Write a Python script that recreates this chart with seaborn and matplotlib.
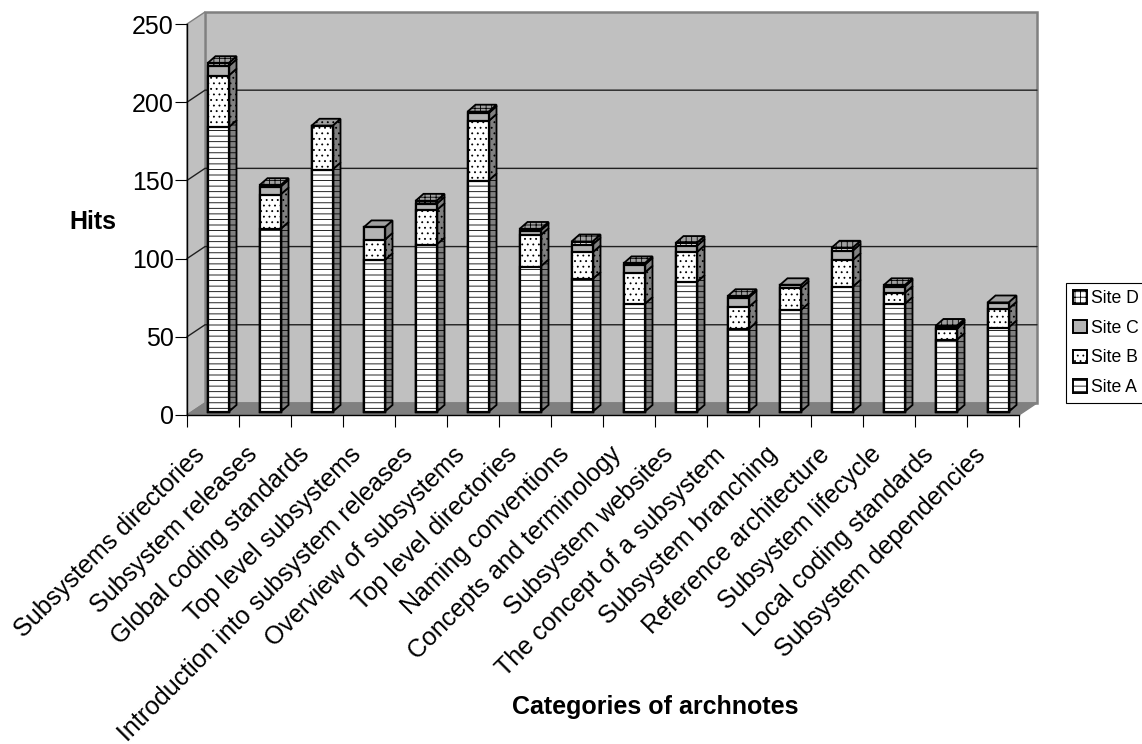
import matplotlib
matplotlib.use("Agg")
import matplotlib.pyplot as plt
import matplotlib.transforms as mtrans
from matplotlib.patches import Patch, Polygon
import numpy as np
import pandas as pd
import seaborn as sns

CATEGORIES = [
    "Subsystems directories", "Subsystem releases", "Global coding standards",
    "Top level subsystems", "Introduction into subsystem releases",
    "Overview of subsystems", "Top level directories", "Naming conventions",
    "Concepts and terminology", "Subsystem websites", "The concept of a subsystem",
    "Subsystem branching", "Reference architecture", "Subsystem lifecycle",
    "Local coding standards", "Subsystem dependencies",
]
SITE_A = [182, 117, 155, 97, 107, 148, 93, 85, 69, 83, 53, 65, 80, 69, 46, 54]
SITE_B = [33, 22, 28, 13, 22, 38, 20, 17, 20, 19, 14, 14, 17, 7, 7, 12]
SITE_C = [6, 5, 0, 8, 4, 5, 3, 5, 5, 4, 6, 2, 6, 4, 1, 4]
SITE_D = [2, 1, 0, 0, 2, 1, 1, 2, 1, 2, 1, 0, 2, 1, 1, 0]
SITES = ["Site A", "Site B", "Site C", "Site D"]
Y_TICKS = [0, 50, 100, 150, 200, 250]

HATCHES = {"Site A": "---", "Site B": "...", "Site C": "", "Site D": "+++"}
FACES = {"Site A": "white", "Site B": "white", "Site C": "#b4b4b4", "Site D": "white"}
WALL = "#c0c0c0"
DARK = "#808080"

W, H = 1142, 744
PX_X = 1 / 52  # one pixel in category units
PX_Y = 50 / 78  # one pixel in hits

sns.set_theme(style="white")
plt.rcParams["font.family"] = ["Liberation Sans", "DejaVu Sans"]
plt.rcParams["hatch.linewidth"] = 0.6

df = pd.DataFrame({"Category": CATEGORIES, "Site A": SITE_A, "Site B": SITE_B,
                   "Site C": SITE_C, "Site D": SITE_D})
cum = df[SITES].cumsum(axis=1)

fig = plt.figure(figsize=(W / 100, H / 100), dpi=100, facecolor="white")
ax = fig.add_axes([187 / W, 1 - 415 / H, 832 / W, 391 / H], facecolor="none")

# stacked bars: largest total first, the lower sums paint over it
shift = mtrans.ScaledTranslation(5 / 100, 3 / 100, fig.dpi_scale_trans)
for site in reversed(SITES):
    n_before = len(ax.patches)
    sns.barplot(data=cum, x=df["Category"], y=site, ax=ax, color=FACES[site],
                saturation=1, width=21 / 52, edgecolor="black", linewidth=1.6,
                hatch=HATCHES[site], zorder=5)
    for p in ax.patches[n_before:]:
        p.set_transform(ax.transData + shift)
        p.set_clip_on(False)

ax.set_xlim(-0.5, 15.5)
ax.set_ylim(0, 250)

# walls and floor of the box behind the bars
dx, dy = 18 * PX_X, 12 * PX_Y
ax.add_patch(Polygon([(-0.5 + dx, dy), (15.5 + dx, dy), (15.5 + dx, 250 + dy), (-0.5 + dx, 250 + dy)],
                     fc=WALL, ec=DARK, lw=1.8, zorder=0, clip_on=False))
ax.add_patch(Polygon([(-0.5, 0), (-0.5 + dx, dy), (-0.5 + dx, 250 + dy), (-0.5, 250)],
                     fc=WALL, ec=DARK, lw=1, zorder=0, clip_on=False))
ax.add_patch(Polygon([(-0.5, 0), (15.5, 0), (15.5 + dx, dy), (-0.5 + dx, dy)],
                     fc=DARK, ec=DARK, lw=1, zorder=1, clip_on=False))
for v in Y_TICKS[1:-1]:
    ax.plot([-0.5, -0.5 + dx, 15.5 + dx], [v, v + dy, v + dy], color="#202020", lw=1,
            zorder=2, clip_on=False)

# side and top faces of each bar
half = 10.5 * PX_X
sx, sy = 5 * PX_X, 3 * PX_Y
ddx, ddy = 8 * PX_X, 7 * PX_Y
for i in range(len(CATEGORIES)):
    x1 = i + half + sx
    low = sy
    top_site = None
    for site in SITES:
        h = df.loc[i, site]
        if h <= 0:
            continue
        y0, y1 = low, low + h
        ax.add_patch(Polygon([(x1, y0), (x1 + ddx, y0 + ddy), (x1 + ddx, y1 + ddy), (x1, y1)],
                             fc=DARK, ec="black", lw=1.3, hatch=HATCHES[site], zorder=4,
                             clip_on=False))
        low = y1
        top_site = site
    x0 = i - half + sx
    ax.add_patch(Polygon([(x0, low), (x1, low), (x1 + ddx, low + ddy), (x0 + ddx, low + ddy)],
                         fc="#a0a0a0", ec="black", lw=1.3, hatch=HATCHES[top_site], zorder=4,
                         clip_on=False))

# axes furniture
sns.despine(ax=ax)
for side in ["left", "bottom"]:
    ax.spines[side].set_color("black")
    ax.spines[side].set_linewidth(1)
    ax.spines[side].set_zorder(6)
ax.set_yticks(Y_TICKS)
ax.tick_params(axis="y", which="major", left=True, length=8.6, width=0.8, color="black",
               labelsize=18, labelcolor="black", pad=1)
ax.set_xticks(np.arange(-0.5, 16, 1), minor=True)
ax.tick_params(axis="x", which="minor", bottom=True, length=8.6, width=0.8, color="black")
ax.tick_params(axis="x", which="major", bottom=False, pad=13)
ax.set_xticks(range(len(CATEGORIES)))
ax.set_xticklabels(CATEGORIES, rotation=45, ha="right", rotation_mode="anchor",
                   fontsize=18, color="black")
label_shift = mtrans.ScaledTranslation(-20 / 100, -1 / 100, fig.dpi_scale_trans)
for lab in ax.get_xticklabels():
    lab.set_transform(lab.get_transform() + label_shift)
ax.set_xlabel("")
ax.set_ylabel("")
fig.text(93 / W, 1 - 222 / H, "Hits", fontsize=18, fontweight="bold", ha="center", va="center", color="black")
fig.text(655 / W, 1 - 707 / H, "Categories of archnotes", fontsize=18, fontweight="bold",
         ha="center", va="center", color="black")

handles = [Patch(fc=FACES[s], ec="black", lw=1.4, hatch=HATCHES[s], label=s) for s in reversed(SITES)]
leg = fig.legend(handles=handles, loc="upper left", bbox_to_anchor=(1066 / W, 1 - 283 / H),
                 bbox_transform=fig.transFigure, fontsize=12.7, frameon=True, fancybox=False,
                 edgecolor="black", framealpha=1, handlelength=0.8, handleheight=0.8,
                 handletextpad=0.2, labelspacing=0.72, borderpad=0.4, borderaxespad=0,
                 labelcolor="black")
leg.get_frame().set_linewidth(0.8)

fig.savefig("out.png", dpi=100)
